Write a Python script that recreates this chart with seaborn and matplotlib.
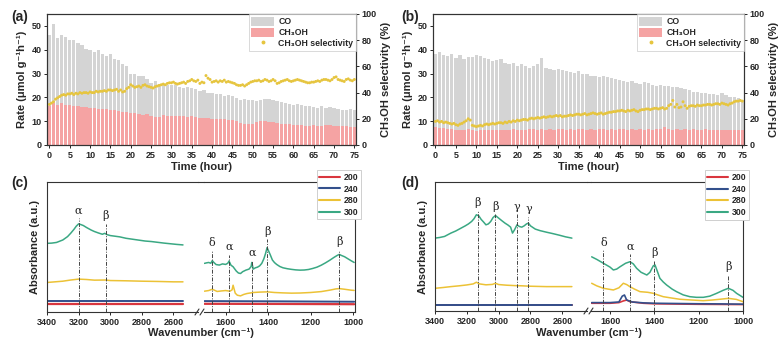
import numpy as np
import pandas as pd
import matplotlib
matplotlib.use("Agg")
import matplotlib.pyplot as plt
import seaborn as sns
from matplotlib.patches import Patch
from matplotlib.lines import Line2D

sns.set_style("ticks")
plt.rcParams["font.family"] = ["Liberation Sans", "DejaVu Sans"]
plt.rcParams["font.weight"] = "bold"
plt.rcParams["axes.labelweight"] = "bold"
plt.rcParams["axes.linewidth"] = 0.8

# ---------------- data: stability tests ----------------
hours = list(range(76))
t_half = [i * 0.5 for i in range(151)]

co_a = [46, 51, 45, 46, 45.5, 44, 44, 43, 42, 40.5, 40, 39, 40, 38, 37.5, 38, 36, 35.5, 34, 33,
        30, 30, 29, 29, 27.5, 26, 27, 25.5, 25.5, 25, 25, 25, 24.5, 24, 24.5, 24, 23.4, 22.7, 23, 22,
        22, 21.3, 21.3, 20.6, 21.2, 20.6, 19.9, 19, 19.3, 18.9, 19, 18.4, 19, 19.4, 19.4, 19, 18.4, 18,
        17.7, 17.4, 17, 17.4, 16.6, 16.3, 16.3, 16, 15.6, 16.3, 15.6, 16, 15.6, 15.2, 14.9, 14.9, 15.2, 14.9]
meoh_a = [16.3, 17.7, 16.6, 17.5, 17, 16.6, 16.3, 16.3, 16, 16, 15.6, 15.6, 15.3, 15.3, 15.2, 14.9,
          14.9, 14.2, 13.8, 13.8, 13.5, 13.5, 13.2, 12.8, 13.0, 12.0, 11.8, 11.8, 12.5, 12.3, 12.3, 12.3,
          12.0, 12.0, 11.8, 12.0, 11.8, 11.3, 11.3, 11.3, 11.0, 11.0, 10.8, 10.8, 10.4, 10.4, 9.9, 9.2,
          8.9, 8.7, 8.9, 9.5, 9.9, 10.2, 9.8, 9.6, 9.2, 9.0, 8.8, 8.8, 8.5, 8.5, 8.5, 8.1, 8.1, 8.3, 8.1,
          8.1, 8.3, 8.2, 8.1, 8.0, 7.8, 7.9, 7.7, 7.5]
sel_a = [31, 32, 33, 35, 36, 37, 38, 38.5, 38, 39, 39, 39.5, 38.5, 39.5, 39, 40, 39.5, 40, 40, 39.5,
         40.5, 40, 40, 41, 40.5, 41, 41, 41.5, 41, 42, 42, 41.5, 42, 42.5, 41, 42, 40.5, 41, 43, 44,
         46, 45, 44, 44.5, 45, 44, 45.5, 46, 45, 44.5, 44, 43.5, 44.5, 45, 45.5, 46, 46.5, 46, 47, 47.5,
         47.5, 48, 47, 46.5, 47, 47.5, 48, 47, 48.5, 49, 50, 49, 48.5, 49.5, 47, 48, 47.5, 53, 51, 50,
         48, 48.5, 49, 48, 49, 48.5, 49.5, 48, 48.5, 48, 47.5, 47, 46, 45.5, 45.5, 46, 45, 46, 47, 48,
         48.5, 49, 49, 49.5, 48.5, 49, 50, 49.5, 48.5, 49, 50, 49, 47, 47.5, 48.5, 49, 49.5, 50, 49, 48.5,
         49, 49.5, 50, 49.5, 49, 48.5, 48, 47.5, 47.5, 48, 48, 48.5, 49, 48.5, 49.5, 50, 50, 49.5, 49, 50,
         51.5, 52, 50, 49.5, 49, 48.5, 50, 50.5, 49.5, 49, 50]

co_b = [38.1, 38.9, 37.7, 37.4, 38.1, 36.7, 37.7, 36, 37, 37, 37.7, 37.4, 36.7, 36, 35.3, 35.7, 36,
        34.6, 33.9, 34.6, 33.1, 33.9, 33.1, 32.4, 33.1, 33.9, 36.7, 32.4, 31.7, 31.4, 31.7, 31.4, 31,
        30.6, 30.3, 31, 30, 29.6, 29.1, 28.9, 28.6, 29.1, 28.6, 28.1, 27.7, 27.4, 26.7, 26.3, 26.7, 26,
        25.7, 26.3, 26, 25.3, 24.9, 25.3, 24.6, 24.9, 24.3, 24.3, 23.9, 23.4, 23.1, 22.4, 22.4, 22, 21.7,
        21.4, 21.4, 21, 21.7, 21, 20, 20.3, 19.6, 18.9]
meoh_b = [7.6, 7.3, 7.0, 6.8, 6.6, 6.3, 6.5, 6.2, 6.8, 6.4, 6.0, 6.2, 6.4, 6.1, 6.3, 6.5, 6.2, 6.4,
          6.3, 6.6, 6.4, 6.5, 6.3, 6.6, 6.7, 6.5, 6.9, 6.4, 6.6, 6.5, 6.7, 6.6, 6.4, 6.7, 6.5, 6.8, 6.6,
          6.4, 6.7, 6.5, 6.8, 6.6, 6.4, 6.6, 6.5, 6.8, 6.6, 6.4, 6.7, 6.5, 6.6, 6.4, 6.7, 6.5, 6.6, 6.8,
          7.4, 6.6, 6.5, 6.7, 6.4, 6.6, 6.5, 6.7, 6.4, 6.5, 6.6, 6.4, 6.5, 6.3, 6.5, 6.4, 6.2, 6.3, 6.1, 6.2]
sel_b = [18, 18.5, 17.5, 18, 17, 17.5, 17, 16.5, 16, 16.5, 15.5, 15, 16, 16.5, 17.5, 18.5, 20, 19,
         15, 14.5, 14, 14.5, 15, 14.5, 15.5, 16, 15.5, 16, 16.5, 16, 16.5, 17, 17, 16.5, 17.5, 17, 18,
         17.5, 18.5, 18, 19, 18.5, 19, 19.5, 19.5, 19, 20, 20.5, 20, 20.5, 21, 20.5, 21, 21.5, 21, 21.5,
         22, 21.5, 22, 22.5, 22, 22.5, 21.5, 22, 22, 22.5, 23, 22.5, 23, 23.5, 23.5, 23, 23.5, 24, 23,
         23.5, 24, 24.5, 24, 23.5, 24, 24.5, 23.5, 24, 24.5, 25, 25, 25.5, 25.5, 26, 26, 26.5, 26, 25.5,
         26.5, 26, 26.5, 27, 26, 25.5, 26.5, 27, 27, 27.5, 27.5, 27, 27.5, 28, 28, 27.5, 28, 28.5, 27.5,
         28, 30, 31, 34, 29, 31, 28.5, 29, 33, 30, 28, 29.5, 30, 30, 29.5, 30.5, 30, 30, 30.5, 30.5, 31,
         31, 30.5, 31, 31.5, 31.5, 31, 32, 31.5, 31, 30.5, 31.5, 32, 33, 33.5, 33.5, 34, 33.5]

# ---------------- data: DRIFTS spectra (relative absorbance) ----------------
c_g_l_wn = [3400, 3370, 3340, 3300, 3270, 3250, 3230, 3215, 3200, 3185, 3170, 3150, 3120, 3100, 3075,
            3050, 3035, 3020, 3000, 2970, 2940, 2900, 2860, 2820, 2780, 2740, 2700, 2660, 2620, 2580, 2540]
c_g_l = [52.8, 53, 53.5, 55.4, 58, 60.6, 63.5, 66, 67.8, 67.2, 66.5, 65, 63, 61.9, 60.8, 59.8, 60.5,
         59.5, 58.8, 58.3, 57.8, 56.7, 56, 55.3, 54.6, 54.2, 53.6, 53, 52.5, 52, 51.6]
c_y_l_wn = [3400, 3300, 3250, 3200, 3150, 3100, 3030, 3000, 2900, 2800, 2700, 2600, 2540]
c_y_l = [22.7, 23.7, 24.6, 25.3, 25, 24.5, 24.6, 24.2, 24, 23.7, 23.5, 23.2, 23.2]
c_base_l_wn = [3400, 3000, 2540]
c_b_l = [8.4, 8.4, 8.4]
c_r_l = [6.3, 6.3, 6.3]

c_g_r_wn = [1700, 1690, 1680, 1670, 1663, 1655, 1645, 1630, 1615, 1600, 1590, 1584, 1575, 1565, 1550,
            1540, 1530, 1520, 1505, 1490, 1480, 1477, 1470, 1460, 1450, 1440, 1430, 1420, 1412, 1405,
            1398, 1390, 1380, 1370, 1360, 1345, 1330, 1310, 1290, 1270, 1250, 1230, 1210, 1190, 1170,
            1150, 1130, 1110, 1090, 1075, 1065, 1055, 1040, 1025, 1010, 995]
c_g_r = [37.4, 37.8, 38.1, 37.5, 39.5, 38, 36.5, 36.1, 37, 36.6, 37.5, 39.2, 36, 34.8, 31.5, 30, 29.6,
         31, 32.2, 33, 35, 38.1, 33, 34, 34.5, 35.5, 37.4, 41, 45.1, 49.5, 47, 44, 40, 38, 36.6, 35, 34,
         33.3, 32.8, 32.4, 32.2, 32.3, 32.7, 33.5, 34.5, 36, 37.8, 39.8, 42, 43.5, 44.3, 43.5, 42.5, 41,
         39.5, 38.1]
c_y_r_wn = [1700, 1680, 1663, 1640, 1620, 1600, 1580, 1570, 1565, 1555, 1545, 1530, 1515, 1500, 1470,
            1440, 1404, 1370, 1330, 1290, 1250, 1200, 1150, 1110, 1080, 1065, 1040, 1010, 995]
c_y_r = [16, 16.5, 17.5, 15.8, 16.2, 16.5, 16, 17, 20.6, 14.5, 12.9, 12.4, 13.5, 14.2, 15, 15.3, 15.5,
         15, 14.7, 14.5, 14.6, 15, 15.7, 16.8, 17.8, 18, 17.5, 16.8, 16.6]
c_base_r_wn = [1700, 1350, 995]
c_b_r = [8.4, 8.2, 7.9]
c_r_r = [6.3, 6.2, 6.0]

d_g_l_wn = [3400, 3370, 3340, 3300, 3270, 3240, 3210, 3190, 3170, 3155, 3140, 3125, 3110, 3095, 3080,
            3065, 3050, 3035, 3020, 3000, 2980, 2960, 2940, 2925, 2913, 2900, 2885, 2870, 2855, 2840,
            2825, 2813, 2800, 2770, 2740, 2700, 2660, 2620, 2580, 2540]
d_g_l = [56.5, 57, 57.8, 60.4, 62, 64, 66, 67.5, 69.4, 71.5, 74.6, 73.8, 71, 69, 66.8, 67.5, 69.4,
         72.5, 74, 72, 70, 68.1, 66.5, 65, 60.4, 63, 66.8, 65.5, 65, 66, 67.5, 68.1, 66, 63.5, 62.3,
         61.1, 60, 58.8, 57.5, 56.5]
d_y_l_wn = [3400, 3350, 3300, 3250, 3200, 3160, 3140, 3120, 3080, 3040, 3020, 3000, 2950, 2900, 2850,
            2800, 2700, 2600, 2540]
d_y_l = [17.6, 18.2, 18.9, 19.5, 20.2, 21, 22.3, 21, 20.3, 20.6, 21.5, 20.5, 20, 19.7, 19.5, 19.2,
         18.9, 18.9, 18.9]
d_base_l_wn = [3400, 3000, 2540]
d_b_l = [4.6, 4.6, 4.6]
d_r_l = [4.3, 4.3, 4.3]

d_g_r_wn = [1683, 1660, 1630, 1600, 1585, 1570, 1555, 1530, 1510, 1495, 1480, 1460, 1434, 1420, 1405,
            1397, 1385, 1375, 1360, 1345, 1320, 1300, 1270, 1240, 1210, 1179, 1150, 1119, 1090, 1066,
            1045, 1029, 1000]
d_g_r = [42, 40, 37, 34, 31.8, 32.5, 34.3, 37, 38.2, 36.5, 33.1, 30, 27.9, 30, 35, 35.7, 30, 25.3,
         22.5, 20.2, 17, 15, 12.5, 11.1, 10.6, 10.6, 11.5, 13.7, 16, 17.6, 16, 13.7, 10.6]
d_y_r_wn = [1683, 1660, 1630, 1585, 1560, 1540, 1525, 1510, 1490, 1465, 1430, 1405, 1385, 1360, 1320,
            1285, 1230, 1180, 1140, 1104, 1066, 1030, 1000]
d_y_r = [21.5, 19.5, 17.6, 16.3, 18, 21.5, 20.5, 18.8, 17, 15, 14.5, 13.7, 12.5, 11.1, 10, 9.1, 8.5,
         8, 8.5, 9.1, 9.8, 9, 7.2]
d_b_r_wn = [1683, 1600, 1560, 1545, 1535, 1525, 1500, 1450, 1400, 1300, 1200, 1100, 1000]
d_b_r = [6.5, 6.5, 7, 11.5, 12.4, 8.5, 7, 6.3, 6, 5.8, 5.6, 5.5, 5.3]
d_r_r_wn = [1683, 1600, 1560, 1540, 1525, 1510, 1480, 1450, 1400, 1300, 1200, 1100, 1000]
d_r_r = [6.0, 6.0, 6.5, 7.8, 8.5, 7.2, 6.6, 6.0, 5.6, 5.4, 5.2, 5.1, 5.0]

# band assignments: (wavenumber, label, label height)
c_bands_l = [(3200, "α", 74), (3030, "β", 70)]
c_bands_r = [(1663, "δ", 49), (1584, "α", 46), (1477, "α", 42), (1404, "β", 58), (1065, "β", 50)]
d_bands_l = [(3130, "β", 80), (3020, "β", 77), (2883, "γ", 77), (2813, "γ", 75)]
d_bands_r = [(1630, "δ", 49), (1510, "α", 46), (1400, "β", 41), (1066, "β", 30)]

temps = ["200", "240", "280", "300"]

# ---------------- styling ----------------
C_GRAY = "#d4d4d4"
C_RED = "#f5a3a3"
C_SEL = "#e6c53f"
C_200 = "#d9363e"
C_240 = "#33508c"
C_280 = "#ecc236"
C_300 = "#3aa883"
W, H = 779, 345

fig = plt.figure(figsize=(W / 100, H / 100), dpi=100)


def px_axes(l, t, r, b):
    return fig.add_axes([l / W, 1 - b / H, (r - l) / W, (b - t) / H])


def style_ticks(ax):
    ax.tick_params(labelsize=6.5, length=2.5, width=0.7, pad=1.5, direction="out")
    for lab in ax.get_xticklabels() + ax.get_yticklabels():
        lab.set_fontweight("bold")


def rate_panel(ax, co, meoh, sel, tag, lab_x):
    sns.barplot(x=hours, y=co, native_scale=True, color=C_GRAY, saturation=1, width=0.8,
                errorbar=None, ax=ax, linewidth=0)
    sns.barplot(x=hours, y=meoh, native_scale=True, color=C_RED, saturation=1, width=0.8,
                errorbar=None, ax=ax, linewidth=0)
    ax.set_xlim(-0.6, 75.4)
    ax.set_ylim(0, 55)
    ax.set_xticks(range(0, 76, 5))
    ax.set_yticks(range(0, 51, 10))
    ax.set_xlabel("Time (hour)", fontsize=8, labelpad=2)
    ax.set_ylabel("Rate (μmol g⁻¹h⁻¹)", fontsize=8, labelpad=3)
    style_ticks(ax)
    ax2 = ax.twinx()
    sns.scatterplot(x=t_half, y=sel, ax=ax2, s=4.5, color=C_SEL, edgecolor="none", linewidth=0,
                    legend=False)
    ax2.set_ylim(0, 100)
    ax2.set_yticks(range(0, 101, 20))
    ax2.set_ylabel("CH₃OH selectivity (%)", fontsize=8, labelpad=3)
    style_ticks(ax2)
    for a in (ax, ax2):
        for s in a.spines.values():
            s.set_linewidth(0.8)
            s.set_color("#333333")
    handles = [Patch(facecolor=C_GRAY, edgecolor="none"),
               Patch(facecolor=C_RED, edgecolor="none"),
               Line2D([], [], marker="o", ls="none", color=C_SEL, markersize=1.8)]
    leg = ax2.legend(handles, ["CO", "CH₃OH", "CH₃OH selectivity"], loc="upper right",
                     bbox_to_anchor=(1.0, 1.0), borderaxespad=0, fontsize=6.3, frameon=True,
                     fancybox=False, edgecolor="#c8c8c8", handlelength=2.6, handleheight=1.3,
                     labelspacing=0.15, borderpad=0.3, handletextpad=0.5)
    leg.get_frame().set_linewidth(0.6)
    for t in leg.get_texts():
        t.set_fontweight("bold")
    fig.text(lab_x / W, 1 - 17 / H, tag, fontsize=10, fontweight="bold", va="center")


ax_a = px_axes(47, 14, 356, 145)
rate_panel(ax_a, co_a, meoh_a, sel_a, "(a)", 11)
ax_b = px_axes(433, 14, 744, 145)
rate_panel(ax_b, co_b, meoh_b, sel_b, "(b)", 401)


def spec_panel(l1, r1, l2, r2, top, bot, lims_r, series_l, series_r, bands_l, bands_r, tag, lab_x):
    a1 = px_axes(l1, top, r1, bot)
    a2 = px_axes(l2, top, r2, bot)
    for ax, series in ((a1, series_l), (a2, series_r)):
        for wn, val, col, lw in series:
            sns.lineplot(x=wn, y=val, ax=ax, color=col, linewidth=lw, errorbar=None, legend=False)
        ax.set_ylim(0, 100)
        ax.set_yticks([])
        ax.set_xlabel("")
        ax.set_ylabel("")
        for s in ax.spines.values():
            s.set_linewidth(0.8)
            s.set_color("#333333")
    a1.set_xlim(3400, 2445)
    a1.set_xticks([3400, 3200, 3000, 2800, 2600])
    a2.set_xlim(*lims_r)
    a2.set_xticks([1600, 1400, 1200, 1000])
    a1.spines["right"].set_visible(False)
    a2.spines["left"].set_visible(False)
    for ax in (a1, a2):
        style_ticks(ax)
    for ax, bands in ((a1, bands_l), (a2, bands_r)):
        for wn, lab, hgt in bands:
            ax.plot([wn, wn], [0, hgt - 2], ls=(0, (4, 1.5, 1, 1.5)), color="#444444", lw=0.7)
            ax.text(wn, hgt, lab, ha="center", va="bottom", fontsize=8,
                    family=["DejaVu Serif"], fontweight="normal", color="#222222")
    a1.set_ylabel("Absorbance (a.u.)", fontsize=8, labelpad=5)
    # continuous top frame over the gap
    yt = 1 - top / H
    fig.add_artist(Line2D([r1 / W, l2 / W], [yt, yt], color="#333333", lw=0.8))
    # axis break marks
    yb = bot
    for dx in (0, 5):
        fig.add_artist(Line2D([(r1 - 3 + dx) / W, (r1 + 1 + dx) / W],
                              [1 - (yb + 3) / H, 1 - (yb - 3) / H], color="#333333", lw=0.8))
    fig.text(((l1 + r2) / 2) / W, 1 - 333 / H, "Wavenumber (cm⁻¹)", fontsize=8,
             fontweight="bold", ha="center", va="center")
    fig.text(lab_x / W, 1 - 183 / H, tag, fontsize=10, fontweight="bold", va="center")
    handles = [Line2D([], [], color=c, lw=1.5) for c in (C_200, C_240, C_280, C_300)]
    leg = a2.legend(handles, temps, loc="upper right", bbox_to_anchor=(1.04, 1.09),
                    borderaxespad=0, fontsize=6.3, frameon=True, fancybox=False,
                    edgecolor="#c8c8c8", handlelength=2.4, labelspacing=0.3, borderpad=0.3,
                    handletextpad=0.4, framealpha=1)
    leg.get_frame().set_linewidth(0.6)
    for t in leg.get_texts():
        t.set_fontweight("bold")
    return a1, a2


spec_panel(47, 198, 204, 355, 182, 312, (1702, 991),
           [(c_base_l_wn, c_r_l, C_200, 1.6), (c_base_l_wn, c_b_l, C_240, 1.4),
            (c_y_l_wn, c_y_l, C_280, 1.1), (c_g_l_wn, c_g_l, C_300, 1.1)],
           [(c_base_r_wn, c_r_r, C_200, 1.6), (c_base_r_wn, c_b_r, C_240, 1.4),
            (c_y_r_wn, c_y_r, C_280, 1.1), (c_g_r_wn, c_g_r, C_300, 1.1)],
           c_bands_l, c_bands_r, "(c)", 11)
spec_panel(435, 587, 591, 743, 182, 311, (1686, 1000),
           [(d_base_l_wn, d_r_l, C_200, 1.4), (d_base_l_wn, d_b_l, C_240, 1.4),
            (d_y_l_wn, d_y_l, C_280, 1.1), (d_g_l_wn, d_g_l, C_300, 1.1)],
           [(d_r_r_wn, d_r_r, C_200, 1.2), (d_b_r_wn, d_b_r, C_240, 1.2),
            (d_y_r_wn, d_y_r, C_280, 1.1), (d_g_r_wn, d_g_r, C_300, 1.1)],
           d_bands_l, d_bands_r, "(d)", 401)

fig.savefig("out.png", dpi=100)
